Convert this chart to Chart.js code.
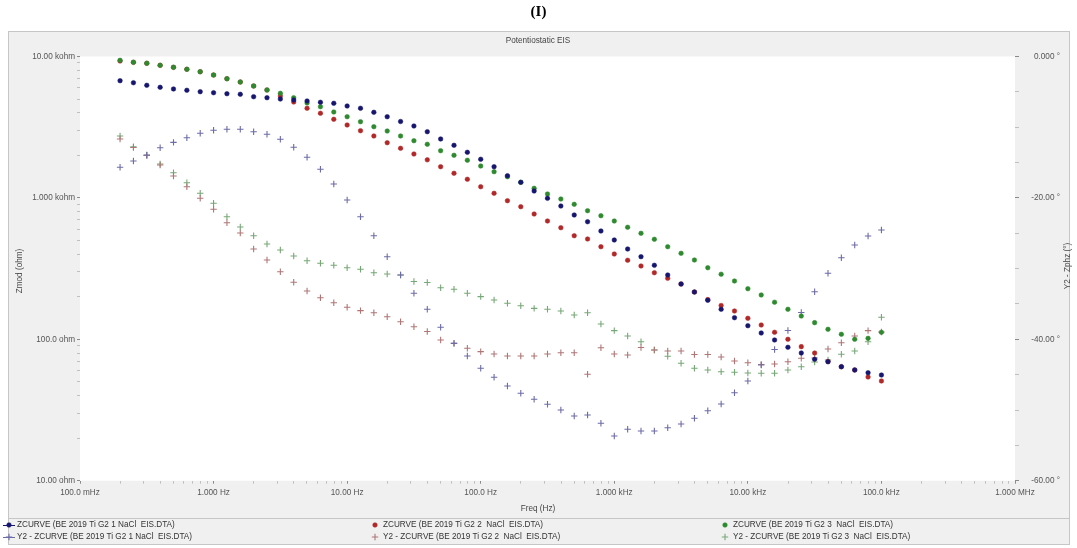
<!DOCTYPE html>
<html>
<head>
<meta charset="utf-8">
<script src="https://cdn.jsdelivr.net/npm/chart.js@4.4.1/dist/chart.umd.min.js"></script>
<style>
  html, body { margin: 0; padding: 0; background: #fff; }
  #wrap { position: relative; width: 1077px; height: 548px; }
  #eis { position: absolute; left: 0; top: 0; }
  #heading { position: absolute; left: 0; top: 3px; width: 1077px; text-align: center;
             font: bold 15px "Liberation Serif", serif; color: #000; }
</style>
</head>
<body>
<div id="wrap">
  <canvas id="eis" width="1077" height="548"></canvas>
  <div id="heading">(I)</div>
</div>
<script>
// frequencies (Hz), 10 points per decade
const freqHz = [0.1995, 0.2512, 0.3162, 0.3981, 0.5012, 0.6310, 0.7943,
  1.000, 1.259, 1.585, 1.995, 2.512, 3.162, 3.981, 5.012, 6.310, 7.943,
  10.00, 12.59, 15.85, 19.95, 25.12, 31.62, 39.81, 50.12, 63.10, 79.43,
  100.0, 125.9, 158.5, 199.5, 251.2, 316.2, 398.1, 501.2, 631.0, 794.3,
  1000, 1259, 1585, 1995, 2512, 3162, 3981, 5012, 6310, 7943,
  10000, 12590, 15850, 19950, 25120, 31620, 39810, 50120, 63100, 79430,
  100000];

// |Z| in ohm
const zmod1 = [6744, 6525, 6257, 6057, 5892, 5768, 5638, 5546, 5457, 5404,
  5196, 5112, 5005, 4924, 4845, 4743, 4667, 4466, 4302, 4031,
  3752, 3470, 3225, 2939, 2610, 2355, 2101, 1875, 1662, 1435,
  1289, 1119, 993.6, 876.3, 757.0, 678.8, 583.3, 504.0, 435.1, 383.9,
  333.7, 284.9, 246.1, 216.0, 188.7, 163.0, 142.2, 124.8, 110.8, 98.9,
  87.8, 80.0, 72.2, 69.4, 64.0, 60.7, 58.0, 55.9];
const zmod2 = [9294, 9099, 8952, 8664, 8386, 8119, 7807, 7399, 6966, 6601,
  6187, 5796, 5256, 4766, 4302, 3965, 3596, 3278, 2987, 2741,
  2457, 2243, 2044, 1859, 1662, 1493, 1354, 1200, 1078, 955.4,
  866.5, 769.3, 686.5, 615.7, 540.3, 512.0, 451.8, 401.1, 362.1, 329.9,
  295.8, 270.0, 246.1, 216.0, 190.9, 173.4, 158.6, 140.8, 126.2, 112.1,
  100.0, 88.7, 80.0, 69.7, 64.0, 60.7, 54.1, 50.7];
const zmod3 = [9400, 9099, 8952, 8664, 8386, 8119, 7807, 7399, 6966, 6601,
  6187, 5796, 5492, 5112, 4690, 4416, 4050, 3752, 3459, 3188,
  2972, 2741, 2538, 2394, 2157, 2001, 1845, 1681, 1532, 1412,
  1289, 1169, 1066, 982.2, 900.8, 811.9, 748.3, 686.5, 619.7, 561.8,
  509.5, 451.8, 405.6, 363.8, 320.9, 288.6, 258.4, 228.0, 205.8, 182.9,
  163.0, 146.1, 131.1, 117.7, 108.5, 100.0, 101.6, 112.1];

// phase in degrees
const zphz1 = [-15.67, -14.78, -13.93, -12.90, -12.14, -11.49, -10.86, -10.44, -10.30, -10.30,
  -10.64, -11.00, -11.71, -12.84, -14.26, -15.95, -18.03, -20.30, -22.66, -25.35,
  -28.32, -30.91, -33.49, -35.76, -38.30, -40.57, -42.36, -44.10, -45.37, -46.61,
  -47.64, -48.49, -49.19, -50.00, -50.85, -50.71, -51.88, -53.68, -52.73, -52.97,
  -52.97, -52.50, -51.98, -51.17, -50.10, -49.15, -47.55, -45.90, -43.64, -41.44,
  -38.76, -36.21, -33.27, -30.66, -28.46, -26.66, -25.39, -24.54];
const zphz2 = [-11.67, -12.87, -14.00, -15.35, -16.90, -18.42, -20.06, -21.61, -23.51, -24.96,
  -27.23, -28.78, -30.44, -31.94, -33.17, -34.12, -34.82, -35.47, -35.95, -36.24,
  -36.80, -37.51, -38.22, -38.90, -40.10, -40.57, -41.27, -41.75, -42.08, -42.36,
  -42.36, -42.36, -42.08, -41.90, -41.90, -44.95, -41.19, -42.08, -42.22, -41.16,
  -41.51, -41.65, -41.65, -42.15, -42.15, -42.50, -43.07, -43.31, -43.56, -43.49,
  -43.17, -42.69, -42.65, -41.37, -40.48, -39.53, -38.78, -38.97];
const zphz3 = [-11.24, -12.76, -13.97, -15.21, -16.44, -17.85, -19.35, -20.76, -22.66, -24.12,
  -25.35, -26.52, -27.37, -28.22, -28.88, -29.25, -29.53, -29.87, -30.10, -30.58,
  -30.76, -30.91, -31.82, -31.97, -32.70, -32.93, -33.49, -33.97, -34.44, -34.91,
  -35.25, -35.62, -35.76, -36.00, -36.56, -36.24, -37.84, -38.78, -39.53, -40.34,
  -41.51, -42.40, -43.39, -44.10, -44.34, -44.58, -44.67, -44.77, -44.81, -44.81,
  -44.34, -43.88, -43.21, -42.93, -42.12, -41.65, -40.34, -36.89];

const seriesNames = [
  'ZCURVE (BE 2019 Ti G2 1 NaCl  EIS.DTA)',
  'ZCURVE (BE 2019 Ti G2 2  NaCl  EIS.DTA)',
  'ZCURVE (BE 2019 Ti G2 3  NaCl  EIS.DTA)',
  'Y2 - ZCURVE (BE 2019 Ti G2 1 NaCl  EIS.DTA)',
  'Y2 - ZCURVE (BE 2019 Ti G2 2  NaCl  EIS.DTA)',
  'Y2 - ZCURVE (BE 2019 Ti G2 3  NaCl  EIS.DTA)'
];

const xTickLabels = ['100.0 mHz', '1.000 Hz', '10.00 Hz', '100.0 Hz', '1.000 kHz', '10.00 kHz', '100.0 kHz', '1.000 MHz'];
const zTickLabels = ['10.00 ohm', '100.0 ohm', '1.000 kohm', '10.00 kohm'];
const phzTickLabels = ['-60.00 °', '-40.00 °', '-20.00 °', '0.000 °'];

const FONT = "'Liberation Sans', Arial, sans-serif";
const FSIZE = 8.2;
const tickFont = { family: FONT, size: FSIZE };

function pairs(ys) {
  return freqHz.map((f, i) => ({ x: f, y: ys[i] }));
}

function isDecade(v) {
  const e = Math.log10(v);
  return Math.abs(e - Math.round(e)) < 1e-6;
}

// 1..9 x 10^n ticks between lo and hi
function logTicks(lo, hi) {
  const out = [];
  for (let e = Math.round(Math.log10(lo)); e < Math.round(Math.log10(hi)); e++) {
    for (let m = 1; m < 10; m++) out.push({ value: m * Math.pow(10, e) });
  }
  out.push({ value: hi });
  return out;
}

function zDot(label, ys, color, order) {
  return { label, data: pairs(ys), yAxisID: 'yZ', order, pointStyle: 'circle', pointRadius: 2.3,
           pointHoverRadius: 2.3, backgroundColor: color, borderColor: color, borderWidth: 0.5 };
}
function phCross(label, ys, color, order) {
  return { label, data: pairs(ys), yAxisID: 'yP', order, pointStyle: 'cross', pointRadius: 3.2,
           pointHoverRadius: 3.2, backgroundColor: color, borderColor: color, borderWidth: 1.1 };
}

const frame = {
  id: 'frame',
  beforeDraw(chart) {
    const { ctx, chartArea: a } = chart;
    ctx.save();
    ctx.fillStyle = '#f0f0f0';
    ctx.fillRect(8, 31, 1062, 514);
    ctx.strokeStyle = '#c6c6c6';
    ctx.lineWidth = 1;
    ctx.strokeRect(8.5, 31.5, 1061, 513);
    ctx.fillStyle = '#ffffff';
    ctx.fillRect(a.left, a.top, a.right - a.left, a.bottom - a.top);
    ctx.beginPath();
    ctx.moveTo(9, 518.5);
    ctx.lineTo(1069, 518.5);
    ctx.stroke();
    ctx.restore();
  },
  afterDraw(chart) {
    const ctx = chart.ctx;
    ctx.save();
    ctx.fillStyle = '#444';
    ctx.font = FSIZE + 'px ' + FONT;
    ctx.textAlign = 'center';
    ctx.textBaseline = 'middle';
    ctx.fillText('Potentiostatic EIS', 538, 41);
    ctx.fillText('Freq (Hz)', 538, 509);
    ctx.save();
    ctx.translate(20, 271);
    ctx.rotate(-Math.PI / 2);
    ctx.fillText('Zmod (ohm)', 0, 0);
    ctx.restore();
    ctx.save();
    ctx.translate(1068, 266);
    ctx.rotate(-Math.PI / 2);
    ctx.fillText('Y2 - Zphz (°)', 0, 0);
    ctx.restore();

    // legend: three columns, |Z| row on top, phase row below
    const colMark = [9, 375, 725];
    const colText = [17, 383, 733];
    const rowY = [525, 537];
    chart.data.datasets.forEach((ds, i) => {
      const col = i % 3, row = i < 3 ? 0 : 1;
      const y = rowY[row];
      ctx.strokeStyle = ds.borderColor;
      ctx.fillStyle = ds.backgroundColor;
      if (col === 0) {
        ctx.lineWidth = 1;
        ctx.beginPath();
        ctx.moveTo(3, y + 0.5);
        ctx.lineTo(15, y + 0.5);
        ctx.stroke();
      }
      ctx.lineWidth = ds.borderWidth;
      Chart.helpers.drawPoint(ctx, { pointStyle: ds.pointStyle, radius: ds.pointRadius, borderWidth: ds.borderWidth, rotation: 0 }, colMark[col], y);
      ctx.fillStyle = '#333';
      ctx.textAlign = 'left';
      ctx.fillText(ds.label, colText[col], y);
    });
    ctx.restore();
  }
};

new Chart(document.getElementById('eis'), {
  type: 'scatter',
  data: {
    datasets: [
      zDot(seriesNames[0], zmod1, '#16166e', 0),
      zDot(seriesNames[1], zmod2, '#b02828', 2),
      zDot(seriesNames[2], zmod3, '#2f8a2f', 1),
      phCross(seriesNames[3], zphz1, '#6c6ca8', 3),
      phCross(seriesNames[4], zphz2, '#b07676', 4),
      phCross(seriesNames[5], zphz3, '#76a876', 5)
    ]
  },
  options: {
    responsive: false,
    animation: false,
    devicePixelRatio: 1,
    layout: { padding: { top: 56.5, left: 0, right: 17, bottom: 0 } },
    plugins: { legend: { display: false }, tooltip: { enabled: false }, title: { display: false } },
    scales: {
      x: {
        type: 'logarithmic', position: 'bottom', min: 0.1, max: 1e6,
        afterBuildTicks: s => { s.ticks = logTicks(0.1, 1e6); },
        afterFit: s => { s.height = 67.3; },
        border: { display: false },
        grid: { drawOnChartArea: false, tickLength: 3,
                color: c => (c.tick && isDecade(c.tick.value)) ? '#8a8a8a' : '#c0c0c0' },
        ticks: { autoSkip: false, maxRotation: 0, padding: 4, color: '#555', font: tickFont,
                 callback: v => isDecade(v) ? xTickLabels[Math.round(Math.log10(v)) + 1] : '' }
      },
      yZ: {
        type: 'logarithmic', position: 'left', min: 10, max: 10000,
        afterBuildTicks: s => { s.ticks = logTicks(10, 10000); },
        afterFit: s => { s.width = 80; },
        border: { display: false },
        grid: { drawOnChartArea: false, tickLength: 3,
                color: c => (c.tick && isDecade(c.tick.value)) ? '#8a8a8a' : '#c0c0c0' },
        ticks: { autoSkip: false, padding: 2, color: '#555', font: tickFont,
                 callback: v => isDecade(v) ? zTickLabels[Math.round(Math.log10(v)) - 1] : '' }
      },
      yP: {
        type: 'linear', position: 'right', min: -60, max: 0,
        afterFit: s => { s.width = 45; },
        border: { display: false },
        grid: { drawOnChartArea: false, tickLength: 4,
                color: c => (c.tick && c.tick.value % 20 === 0) ? '#8a8a8a' : '#c0c0c0' },
        ticks: { stepSize: 5, autoSkip: false, padding: 3, crossAlign: 'far', color: '#555', font: tickFont,
                 callback: v => (v % 20 === 0) ? phzTickLabels[(v + 60) / 20] : '' }
      }
    }
  },
  plugins: [frame]
});
</script>
</body>
</html>
